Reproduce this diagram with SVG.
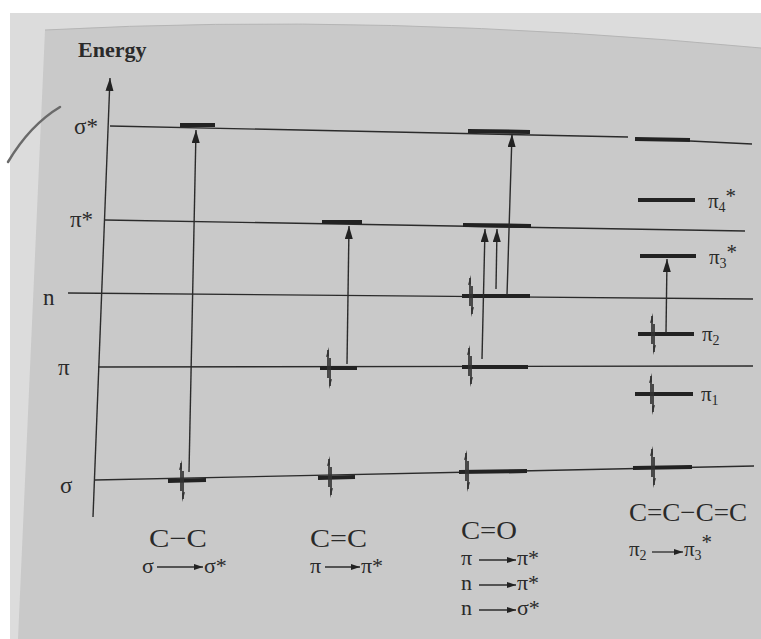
<svg xmlns="http://www.w3.org/2000/svg" width="761" height="639" viewBox="0 0 761 639">
<style>
.thin{stroke:#2b2b2b;stroke-width:1.4;fill:none}
.lvl{stroke:#222;stroke-width:4.2;stroke-linecap:butt}
.tr{stroke:#2b2b2b;stroke-width:1.4;fill:none;marker-end:url(#ah)}
.sm{stroke:#2b2b2b;stroke-width:1.3;fill:none;marker-end:url(#sh)}
text{font-family:"Liberation Serif","Times New Roman",serif;fill:#2a2a2a}
.big{font-size:22px}
.bond{font-size:26px}
.ax{font-size:23px}
.rt{font-size:21px}
</style>
<defs>
<marker id="ah" markerUnits="userSpaceOnUse" markerWidth="13" markerHeight="8" refX="13" refY="4" orient="auto">
<path d="M0,0 L13,4 L0,8 z" fill="#222"/>
</marker>
<marker id="sh" markerUnits="userSpaceOnUse" markerWidth="9" markerHeight="6" refX="9" refY="3" orient="auto">
<path d="M0,0 L9,3 L0,6 z" fill="#222"/>
</marker>
<g id="pair">
<line x1="-1" y1="10" x2="-1" y2="-18" stroke="#333" stroke-width="1.7"/>
<polygon points="-0.2,-21 -3,-11 -0.2,-12" fill="#333"/>
<line x1="1" y1="-10" x2="1" y2="18" stroke="#333" stroke-width="1.7"/>
<polygon points="0.2,21 3,11 0.2,12" fill="#333"/>
</g>
</defs>

<g id="background">
<rect width="761" height="639" fill="#ffffff"/>
<rect x="10" y="13" width="751" height="626" fill="#dcdcdc"/>
<path d="M45,30 Q380,12 761,48 L761,639 L18,639 Z" fill="#c9c9c9"/>
<path d="M45,30 Q380,12 761,48" fill="none" stroke="#b5b5b5" stroke-width="1"/>
<path d="M8,162 Q30,125 60,107" fill="none" stroke="#6a6a6a" stroke-width="2.5" stroke-linecap="round"/>
</g>

<g id="axis">
<line class="thin" x1="93" y1="517" x2="110" y2="78" marker-end="url(#ah)"/>
<text x="78" y="57" font-size="22" font-weight="bold">Energy</text>
<text class="ax" x="74" y="134">σ*</text>
<text class="ax" x="70" y="227">π*</text>
<text class="ax" x="43" y="305">n</text>
<text class="ax" x="58" y="375">π</text>
<text class="ax" x="60" y="493">σ</text>
</g>

<g id="levels">
<line class="thin" x1="110" y1="126" x2="628" y2="137"/>
<line class="thin" x1="690" y1="141" x2="752" y2="144"/>
<line class="thin" x1="105" y1="220" x2="745" y2="231"/>
<line class="thin" x1="68" y1="293" x2="753" y2="299"/>
<line class="thin" x1="98" y1="367" x2="753" y2="366"/>
<line class="thin" x1="95" y1="480" x2="754" y2="466"/>
</g>

<g id="cc">
<line class="lvl" x1="180" y1="125" x2="215" y2="125"/>
<line class="lvl" x1="168" y1="481" x2="206" y2="480"/>
<use href="#pair" x="182" y="481"/>
<text class="bond" x="149" y="547" textLength="58" lengthAdjust="spacingAndGlyphs">C−C</text>
<text class="big" x="142" y="573">σ</text>
<line class="sm" x1="157" y1="567" x2="203" y2="567"/>
<text class="big" x="204" y="573">σ*</text>
</g>

<g id="c2c">
<line class="lvl" x1="322" y1="222" x2="362" y2="222"/>
<line class="lvl" x1="320" y1="368" x2="357" y2="368"/>
<use href="#pair" x="329" y="368"/>
<line class="lvl" x1="318" y1="478" x2="355" y2="477"/>
<use href="#pair" x="330" y="477"/>
<text class="bond" x="310" y="547" textLength="57" lengthAdjust="spacingAndGlyphs">C=C</text>
<text class="big" x="310" y="573">π</text>
<line class="sm" x1="325" y1="567" x2="360" y2="567"/>
<text class="big" x="361" y="573">π*</text>
</g>

<g id="co">
<line class="lvl" x1="468" y1="131" x2="530" y2="132"/>
<line class="lvl" x1="463" y1="225" x2="531" y2="226"/>
<line class="lvl" x1="462" y1="296" x2="530" y2="296"/>
<use href="#pair" x="471" y="296"/>
<line class="lvl" x1="462" y1="367" x2="528" y2="367"/>
<use href="#pair" x="470" y="366"/>
<line class="lvl" x1="459" y1="472" x2="527" y2="471"/>
<use href="#pair" x="467" y="471"/>
<text x="461" y="539" font-size="25" textLength="56" lengthAdjust="spacingAndGlyphs">C=O</text>
<text class="big" x="461" y="565">π</text>
<line class="sm" x1="479" y1="560" x2="516" y2="560"/>
<text class="big" x="517" y="565">π*</text>
<text class="big" x="461" y="590">n</text>
<line class="sm" x1="479" y1="585" x2="516" y2="585"/>
<text class="big" x="517" y="590">π*</text>
<text class="big" x="461" y="615">n</text>
<line class="sm" x1="479" y1="610" x2="516" y2="610"/>
<text class="big" x="517" y="615">σ*</text>
</g>

<g id="butadiene">
<line class="lvl" x1="635" y1="139" x2="690" y2="140"/>
<line class="lvl" x1="638" y1="200" x2="695" y2="200"/>
<text class="rt" x="708" y="208">π<tspan font-size="14" dy="4">4</tspan><tspan dy="-9">*</tspan></text>
<line class="lvl" x1="640" y1="256" x2="696" y2="256"/>
<text class="rt" x="709" y="264">π<tspan font-size="14" dy="4">3</tspan><tspan dy="-9">*</tspan></text>
<line class="lvl" x1="638" y1="334" x2="694" y2="334"/>
<use href="#pair" x="653" y="334"/>
<text class="rt" x="702" y="341">π<tspan font-size="14" dy="4">2</tspan></text>
<line class="lvl" x1="635" y1="394" x2="693" y2="394"/>
<use href="#pair" x="652" y="394"/>
<text class="rt" x="701" y="401">π<tspan font-size="14" dy="4">1</tspan></text>
<line class="lvl" x1="633" y1="468" x2="692" y2="467"/>
<use href="#pair" x="653" y="467"/>
<text class="bond" x="629" y="521" textLength="118" lengthAdjust="spacingAndGlyphs">C=C−C=C</text>
<text class="rt" x="629" y="556">π<tspan font-size="14" dy="4">2</tspan></text>
<line class="sm" x1="652" y1="552" x2="683" y2="552"/>
<text class="rt" x="684" y="556">π<tspan font-size="14" dy="4">3</tspan><tspan dy="-11">*</tspan></text>
</g>

<g id="connectors">
<line class="tr" x1="189" y1="472" x2="196" y2="130"/>
<line class="tr" x1="347" y1="364" x2="349" y2="226"/>
<line class="tr" x1="482" y1="359" x2="485" y2="229"/>
<line class="tr" x1="496" y1="289" x2="497" y2="229"/>
<line class="tr" x1="507" y1="295" x2="512" y2="134"/>
<line class="tr" x1="666" y1="333" x2="667" y2="259"/>
</g>
</svg>
